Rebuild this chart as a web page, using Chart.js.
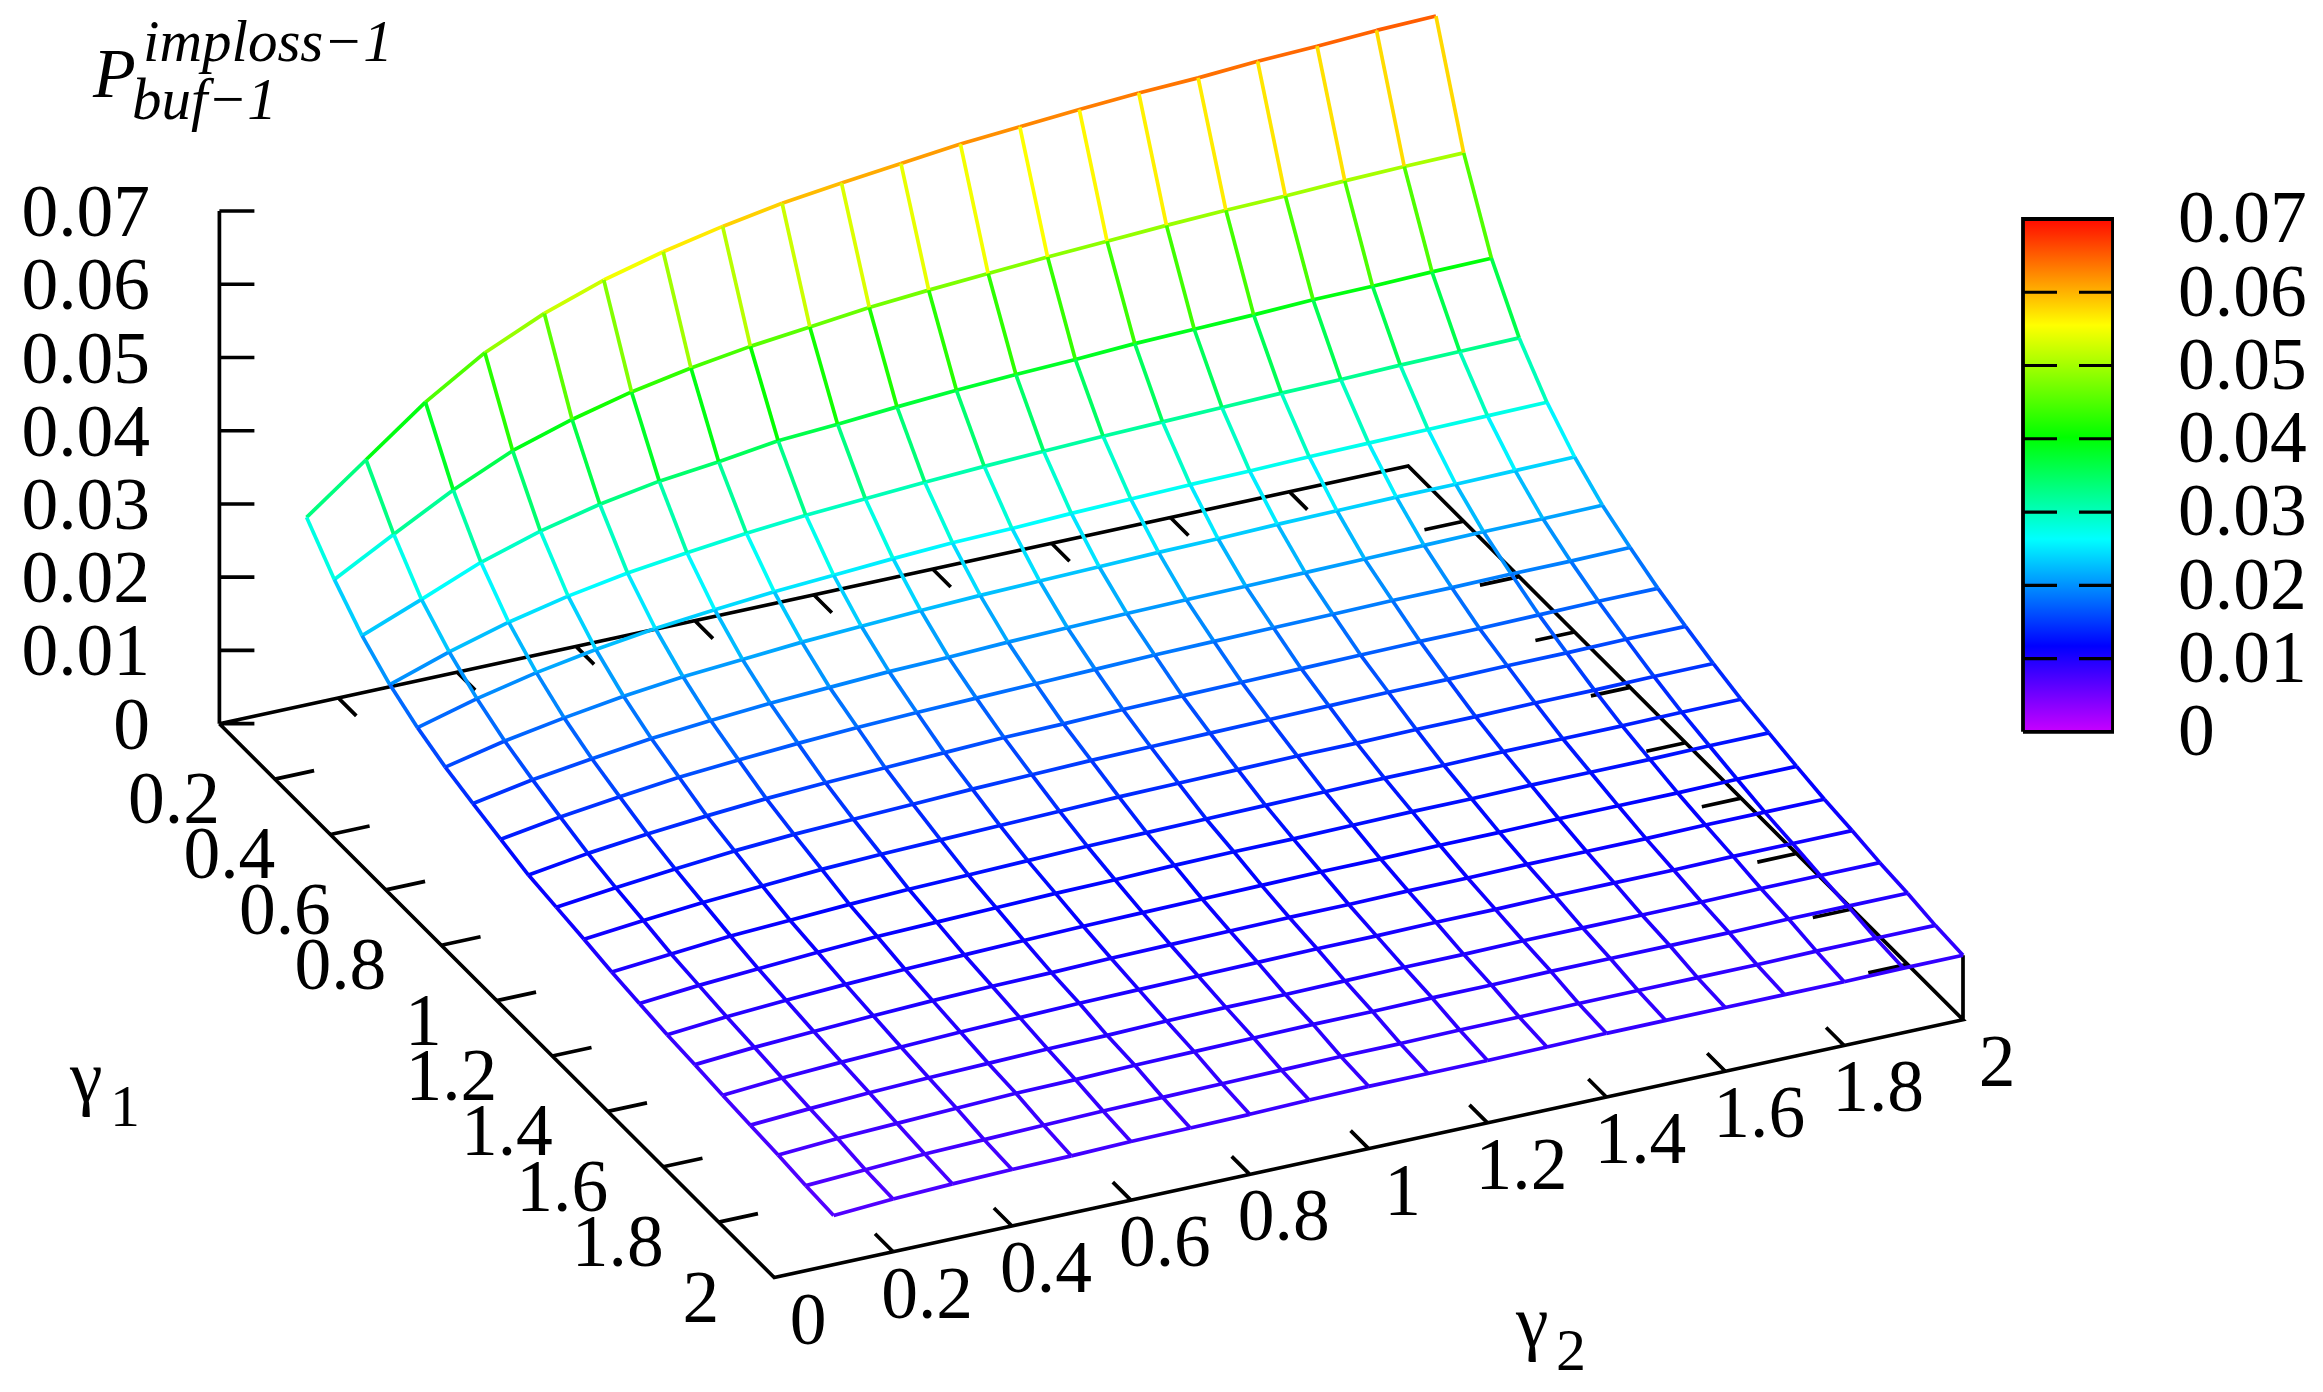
<!DOCTYPE html>
<html><head><meta charset="utf-8">
<style>html,body{margin:0;padding:0;background:#fff}canvas{display:block}</style>
<script src="https://cdn.jsdelivr.net/npm/chart.js@4/dist/chart.umd.min.js"></script>
</head><body><canvas id="c" width="2323" height="1392"></canvas>
<script>
// ---- data ----
const gamma1 = [0.1,0.2,0.3,0.4,0.5,0.6,0.7,0.8,0.9,1.0,1.1,1.2,1.3,1.4,1.5,1.6,1.7,1.8,1.9,2.0];
const gamma2 = [0.1,0.2,0.3,0.4,0.5,0.6,0.7,0.8,0.9,1.0,1.1,1.2,1.3,1.4,1.5,1.6,1.7,1.8,1.9,2.0];
const gamma1Labels = ["0.2","0.4","0.6","0.8","1","1.2","1.4","1.6","1.8","2"];
const gamma2Labels = ["0","0.2","0.4","0.6","0.8","1","1.2","1.4","1.6","1.8","2"];
const zLabels = ["0","0.01","0.02","0.03","0.04","0.05","0.06","0.07"];
// surface height: one row per gamma1, one column per gamma2
const surface = [
[.0302,.0363,.0424,.0474,.0510,.0538,.0559,.0576,.0590,.0600,.0609,.0618,.0624,.0630,.0635,.0638,.0643,.0646,.0650,.0652],
[.0255,.0299,.0342,.0378,.0403,.0423,.0438,.0450,.0459,.0468,.0474,.0479,.0484,.0488,.0492,.0495,.0497,.0500,.0502,.0503],
[.0216,.0248,.0281,.0306,.0325,.0339,.0348,.0359,.0364,.0370,.0375,.0379,.0382,.0386,.0388,.0390,.0393,.0394,.0396,.0397],
[.0187,.0214,.0237,.0255,.0269,.0279,.0288,.0295,.0300,.0305,.0309,.0312,.0315,.0317,.0319,.0321,.0322,.0324,.0325,.0326],
[.0166,.0188,.0206,.0220,.0231,.0239,.0246,.0251,.0256,.0260,.0262,.0265,.0267,.0269,.0270,.0272,.0273,.0274,.0275,.0276],
[.0150,.0168,.0182,.0194,.0203,.0209,.0215,.0219,.0223,.0226,.0228,.0230,.0232,.0233,.0235,.0236,.0237,.0237,.0238,.0239],
[.0138,.0153,.0164,.0174,.0181,.0187,.0191,.0195,.0197,.0200,.0202,.0204,.0205,.0206,.0207,.0208,.0209,.0210,.0210,.0211],
[.0127,.0140,.0150,.0159,.0165,.0170,.0174,.0177,.0179,.0181,.0183,.0185,.0186,.0187,.0188,.0189,.0189,.0190,.0190,.0191],
[.0116,.0128,.0137,.0144,.0150,.0154,.0157,.0160,.0163,.0164,.0166,.0167,.0168,.0169,.0170,.0171,.0171,.0172,.0173,.0173],
[.0110,.0119,.0127,.0134,.0139,.0142,.0145,.0148,.0150,.0152,.0153,.0154,.0155,.0156,.0157,.0157,.0158,.0158,.0159,.0159],
[.0104,.0112,.0119,.0124,.0129,.0132,.0134,.0136,.0138,.0140,.0141,.0142,.0143,.0143,.0144,.0144,.0145,.0145,.0146,.0146],
[.0097,.0104,.0111,.0115,.0119,.0122,.0124,.0126,.0128,.0129,.0130,.0131,.0132,.0133,.0133,.0134,.0134,.0134,.0135,.0135],
[.0092,.0099,.0104,.0109,.0113,.0115,.0117,.0119,.0120,.0122,.0123,.0123,.0124,.0125,.0125,.0126,.0126,.0126,.0127,.0127],
[.0087,.0094,.0099,.0103,.0106,.0108,.0110,.0112,.0113,.0114,.0115,.0116,.0116,.0117,.0117,.0118,.0118,.0118,.0119,.0119],
[.0084,.0090,.0094,.0098,.0101,.0103,.0104,.0106,.0107,.0108,.0109,.0109,.0110,.0110,.0111,.0111,.0111,.0112,.0112,.0112],
[.0080,.0086,.0090,.0093,.0096,.0098,.0100,.0101,.0102,.0103,.0104,.0104,.0105,.0105,.0106,.0106,.0106,.0107,.0107,.0107],
[.0077,.0082,.0086,.0089,.0091,.0093,.0094,.0096,.0097,.0097,.0098,.0099,.0099,.0100,.0100,.0100,.0100,.0101,.0101,.0101],
[.0074,.0079,.0082,.0085,.0088,.0089,.0091,.0092,.0093,.0094,.0094,.0095,.0095,.0096,.0096,.0096,.0096,.0097,.0097,.0097],
[.0070,.0074,.0078,.0080,.0082,.0084,.0085,.0086,.0087,.0088,.0088,.0089,.0089,.0090,.0090,.0090,.0090,.0091,.0091,.0091],
[.0067,.0072,.0075,.0077,.0078,.0080,.0081,.0082,.0084,.0085,.0085,.0085,.0086,.0087,.0087,.0087,.0087,.0087,.0088,.0088]
];
// palette of the colour bar: value, r, g, b
const paletteValues = [0,0.0117,0.0263,0.0402,0.0555,0.07];
const paletteColours = [[200,0,255],[0,0,255],[0,255,255],[0,255,0],[255,255,0],[255,10,0]];

// ---- view: oblique projection of (gamma1, gamma2, z) on the page ----
const VIEW = {ox:219.4, oy:723.7, g2x:594.4, g2y:-128.9, g1x:277.4, g1y:276.9, zy:-7324};
function project(g1,g2,z){
  return {x:VIEW.ox+g2*VIEW.g2x+g1*VIEW.g1x, y:VIEW.oy+g2*VIEW.g2y+g1*VIEW.g1y+z*VIEW.zy, z};
}
function colourFor(v){
  const V=paletteValues,C=paletteColours;
  let i=0; while(i<V.length-2 && v>V[i+1]) i++;
  const t=Math.max(0,Math.min(1,(v-V[i])/(V[i+1]-V[i])));
  const c=C[i].map((a,k)=>Math.round(a+(C[i+1][k]-a)*t));
  return `rgb(${c[0]},${c[1]},${c[2]})`;
}
const GAP={x:NaN,y:NaN};
const num=s=>parseFloat(s);
const TICK1=0.065, TICK2=0.066;

// ---- box of the plot ----
const axisPts=[project(0,0,0),project(0,2,0),project(2,2,0),project(2,0,0),project(0,0,0),GAP,
               project(0,0,0),project(0,0,0.07),GAP,project(2,2,0),project(2,2,surface[19][19]),GAP];
zLabels.forEach(s=>{const p=project(0,0,num(s));axisPts.push(p,{x:p.x+35,y:p.y},GAP);});
gamma2Labels.map(num).filter(v=>v>0&&v<2).forEach(v=>{
  axisPts.push(project(2,v,0),project(2-TICK1,v,0),GAP,project(0,v,0),project(TICK1,v,0),GAP);
});
gamma1Labels.map(num).filter(v=>v<2).forEach(v=>{
  axisPts.push(project(v,0,0),project(v,TICK2,0),GAP,project(v,2,0),project(v,2-TICK2,0),GAP);
});

// ---- wire mesh ----
const wireDatasets=[];
const wireStyle={borderWidth:3.7,pointRadius:0,tension:0,fill:false,order:0,xAxisID:'x',yAxisID:'y',spanGaps:false,
  borderColor:'#000',
  segment:{borderColor:c=>{const d=c.chart.data.datasets[c.datasetIndex].data;
    return colourFor((d[c.p0DataIndex].z+d[c.p1DataIndex].z)/2);}}};
gamma2.forEach((g2,j)=>wireDatasets.push({...wireStyle,label:'g2 '+g2,
  data:gamma1.map((g1,i)=>project(g1,g2,surface[i][j]))}));
gamma1.forEach((g1,i)=>wireDatasets.push({...wireStyle,label:'g1 '+g1,
  data:gamma2.map((g2,j)=>project(g1,g2,surface[i][j]))}));

// ---- colour bar placement ----
const BAR={l:2023,r:2113,tickIn:34,top:219,bottom:731.8};
const cbMax=0.07, cbPerPx=cbMax/(BAR.bottom-BAR.top);
const cbRange={min:-(1392-BAR.bottom)*cbPerPx,max:cbMax+BAR.top*cbPerPx};
const canvasEl=document.getElementById('c');
const barGradient=canvasEl.getContext('2d').createLinearGradient(0,BAR.bottom,0,BAR.top);
paletteValues.forEach(v=>barGradient.addColorStop(v/cbMax,colourFor(v)));
const barDataset={label:'bar',xAxisID:'x',yAxisID:'cb',order:1,pointRadius:0,tension:0,borderColor:'#000',borderWidth:3.8,
  fill:'shape',backgroundColor:barGradient,
  data:[{x:BAR.l,y:0},{x:BAR.r,y:0},{x:BAR.r,y:cbMax},{x:BAR.l,y:cbMax},{x:BAR.l,y:0}]};
const barTicks=[];
zLabels.map(num).filter(v=>v>0&&v<cbMax).forEach(v=>{
  barTicks.push({x:BAR.l,y:v},{x:BAR.l+BAR.tickIn,y:v},GAP,{x:BAR.r-BAR.tickIn,y:v},{x:BAR.r,y:v},GAP);
});
const barTickDataset={label:'bar ticks',xAxisID:'x',yAxisID:'cb',order:0,pointRadius:0,tension:0,borderColor:'#000',borderWidth:3.2,fill:false,spanGaps:false,data:barTicks};
const axisDataset={label:'axes',xAxisID:'x',yAxisID:'y',order:2,pointRadius:0,tension:0,borderColor:'#000',borderWidth:3.7,fill:false,spanGaps:false,data:axisPts};

// ---- axis and title texts ----
const SERIF='"Liberation Serif"';
const textPlugin={id:'texts',afterDatasetsDraw(chart){
  const {ctx,scales:{x,y}}=chart;
  const put=(s,p,font,align)=>{ctx.font=font;ctx.textAlign=align||'left';ctx.textBaseline='alphabetic';ctx.fillStyle='#000';
    ctx.fillText(s,x.getPixelForValue(p.x),y.getPixelForValue(p.y));};
  ctx.save();
  const F=`73.5px ${SERIF}`;
  zLabels.forEach(s=>{const p=project(0,0,num(s));put(s,{x:150,y:p.y+25},F,'right');});
  gamma1Labels.forEach(s=>{const p=project(num(s),0,0);put(s,{x:p.x-55,y:p.y+18+26},F,'right');});
  gamma2Labels.forEach(s=>{const p=project(2,num(s),0);put(s,{x:p.x+34,y:p.y+40+26},F,'center');});
  put('γ',{x:70,y:1101},F); put('1',{x:110,y:1126},`60px ${SERIF}`);
  put('γ',{x:1516,y:1346},F); put('2',{x:1556,y:1370},`60px ${SERIF}`);
  put('P',{x:93,y:97},`italic 70px ${SERIF}`);
  put('imploss−1',{x:143,y:61},`italic 59px ${SERIF}`);
  put('buf−1',{x:132,y:119},`italic 59px ${SERIF}`);
  ctx.restore();
}};

new Chart(canvasEl,{
  type:'line',
  data:{datasets:[...wireDatasets,barTickDataset,barDataset,axisDataset]},
  plugins:[textPlugin],
  options:{
    responsive:false,animation:false,devicePixelRatio:1,
    layout:{padding:0},
    plugins:{legend:{display:false},tooltip:{enabled:false},title:{display:false}},
    events:[],
    scales:{
      x:{type:'linear',display:false,min:0,max:BAR.r+1},
      y:{type:'linear',display:false,reverse:true,min:0,max:1392},
      cb:{type:'linear',position:'right',min:cbRange.min,max:cbRange.max,
        afterFit(s){s.width=2323-(BAR.r+1);s.paddingTop=0;s.paddingBottom=0;},
        afterBuildTicks(s){s.ticks=zLabels.map(v=>({value:num(v)}));},
        grid:{display:false,drawTicks:false},border:{display:false},
        ticks:{autoSkip:false,maxRotation:0,padding:64,labelOffset:4,color:'#000',font:{family:'Liberation Serif',size:73.5},
          callback:v=>String(v)}}
    }
  }
});
</script></body></html>
